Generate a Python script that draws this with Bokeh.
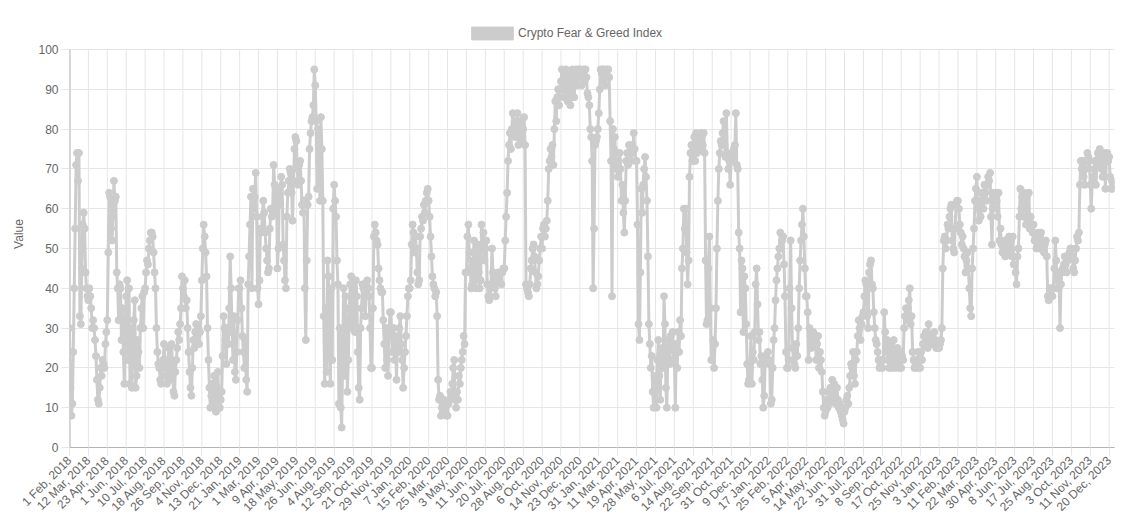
import numpy as np
from math import pi
from bokeh.plotting import figure
from bokeh.models import FixedTicker, Legend, LegendItem, Range1d
from bokeh.embed import file_html
from bokeh.resources import INLINE

# ---------------- data ----------------
# x-axis tick labels (one every 39 daily points)
tick_labels = [
    "1 Feb, 2018", "12 Mar, 2018", "23 Apr, 2018", "1 Jun, 2018", "10 Jul, 2018",
    "18 Aug, 2018", "26 Sep, 2018", "4 Nov, 2018", "13 Dec, 2018", "21 Jan, 2019",
    "1 Mar, 2019", "9 Apr, 2019", "18 May, 2019", "26 Jun, 2019", "4 Aug, 2019",
    "12 Sep, 2019", "21 Oct, 2019", "29 Nov, 2019", "7 Jan, 2020", "15 Feb, 2020",
    "25 Mar, 2020", "3 May, 2020", "11 Jun, 2020", "20 Jul, 2020", "28 Aug, 2020",
    "6 Oct, 2020", "14 Nov, 2020", "23 Dec, 2020", "31 Jan, 2021", "11 Mar, 2021",
    "19 Apr, 2021", "28 May, 2021", "6 Jul, 2021", "14 Aug, 2021", "22 Sep, 2021",
    "31 Oct, 2021", "9 Dec, 2021", "17 Jan, 2022", "25 Feb, 2022", "5 Apr, 2022",
    "14 May, 2022", "22 Jun, 2022", "31 Jul, 2022", "8 Sep, 2022", "17 Oct, 2022",
    "25 Nov, 2022", "3 Jan, 2023", "11 Feb, 2023", "22 Mar, 2023", "30 Apr, 2023",
    "8 Jun, 2023", "17 Jul, 2023", "25 Aug, 2023", "3 Oct, 2023", "11 Nov, 2023",
    "20 Dec, 2023",
]
y_ticks = [0, 10, 20, 30, 40, 50, 60, 70, 80, 90, 100]
days_per_label = 39      # daily points between two tick labels
samples_per_label = 20   # values read per tick interval
last_day = 2156          # index of the last daily point (31 Dec 2023)

# index values (20 per tick interval)
fg_feb2018_jan2019 = [
    30, 15, 8, 11, 24, 40, 55, 71, 74, 67, 74, 33, 31, 45, 56, 59, 55, 44, 40, 38,
    37, 40, 38, 35, 30, 32, 30, 27, 23, 17, 12, 11, 15, 20, 18, 22, 21, 20, 26, 29,
    32, 49, 64, 63, 55, 52, 58, 67, 62, 63, 44, 40, 32, 41, 40, 27, 35, 24, 16, 30,
    38, 42, 22, 40, 16, 30, 15, 25, 32, 37, 15, 18, 27, 24, 20, 30, 35, 38, 30, 39,
    40, 44, 47, 46, 50, 52, 54, 54, 53, 49, 44, 40, 30, 24, 21, 20, 17, 16, 20, 22,
    26, 22, 18, 16, 21, 25, 20, 17, 26, 21, 14, 13, 19, 22, 25, 29, 27, 31, 35, 43,
    40, 38, 42, 35, 37, 30, 24, 19, 15, 13, 20, 27, 25, 29, 31, 28, 30, 26, 29, 33,
    42, 50, 56, 53, 49, 43, 30, 22, 15, 10, 13, 16, 11, 18, 12, 9, 15, 19, 12, 10,
    12, 14, 23, 33, 30, 27, 21, 30, 26, 35, 48, 40, 29, 22, 33, 19, 17, 24, 32, 40,
]
fg_jan2019_jan2020 = [
    40, 42, 35, 28, 24, 20, 27, 17, 14, 41, 48, 56, 63, 40, 65, 60, 63, 69, 58, 40,
    36, 42, 55, 54, 58, 62, 59, 54, 50, 47, 44, 45, 55, 60, 58, 60, 71, 66, 59, 65,
    45, 50, 64, 61, 68, 66, 51, 47, 42, 40, 58, 64, 67, 70, 69, 64, 57, 67, 75, 78,
    77, 70, 66, 71, 72, 67, 61, 59, 62, 40, 27, 47, 61, 63, 75, 79, 82, 83, 86, 95,
    91, 82, 65, 80, 72, 62, 83, 75, 62, 33, 16, 35, 19, 47, 43, 25, 16, 40, 22, 60,
    66, 62, 58, 47, 41, 11, 30, 10, 5, 23, 40, 18, 38, 30, 14, 22, 35, 41, 43, 30,
    30, 40, 29, 42, 38, 24, 15, 12, 30, 35, 41, 40, 38, 33, 41, 42, 40, 38, 30, 20,
    20, 35, 53, 56, 54, 52, 51, 45, 42, 40, 39, 39, 32, 26, 20, 30, 22, 18, 28, 34,
    34, 28, 24, 30, 22, 26, 17, 28, 24, 30, 33, 26, 22, 15, 20, 24, 28, 33, 38, 40,
]
fg_jan2020_jan2021 = [
    40, 42, 51, 56, 54, 49, 53, 50, 44, 41, 42, 53, 55, 58, 57, 61, 59, 62, 64, 65,
    62, 58, 53, 48, 43, 41, 40, 38, 39, 33, 17, 12, 13, 8, 10, 9, 12, 10, 11, 8,
    8, 11, 12, 14, 13, 16, 20, 22, 12, 10, 14, 12, 18, 16, 20, 22, 24, 28, 26, 44,
    44, 53, 56, 49, 45, 40, 41, 47, 52, 44, 40, 50, 51, 44, 40, 42, 56, 50, 54, 47,
    50, 52, 41, 38, 37, 38, 41, 50, 44, 42, 40, 38, 42, 43, 44, 42, 44, 41, 44, 45,
    45, 52, 58, 64, 72, 76, 79, 75, 80, 84, 80, 82, 78, 81, 84, 76, 79, 82, 77, 78,
    80, 83, 76, 41, 40, 39, 38, 41, 45, 47, 50, 51, 48, 44, 40, 41, 43, 47, 50, 53,
    50, 55, 56, 53, 55, 57, 62, 70, 72, 75, 73, 76, 71, 80, 87, 82, 88, 90, 86, 90,
    92, 95, 90, 88, 93, 95, 91, 87, 94, 92, 86, 89, 95, 93, 88, 92, 95, 91, 94, 95,
    95, 93, 91, 94, 95, 92, 95, 93, 89, 88, 86, 80, 78, 72, 40, 55, 76, 77, 78, 80,
]
fg_jan2021_jan2022 = [
    84, 90, 95, 94, 95, 92, 95, 91, 94, 95, 95, 93, 82, 72, 38, 80, 75, 78, 70, 72,
    68, 72, 74, 70, 62, 66, 59, 54, 62, 72, 74, 71, 76, 74, 72, 76, 74, 79, 75, 72,
    72, 56, 31, 27, 44, 65, 59, 66, 70, 73, 68, 62, 48, 31, 26, 20, 23, 14, 10, 18,
    14, 10, 22, 27, 18, 12, 23, 25, 20, 38, 31, 15, 10, 24, 27, 21, 28, 26, 29, 22,
    22, 10, 26, 20, 29, 24, 32, 28, 45, 50, 60, 55, 60, 49, 41, 47, 68, 74, 76, 72,
    76, 78, 72, 79, 74, 78, 77, 75, 79, 78, 76, 79, 74, 47, 31, 32, 45, 53, 35, 22,
    22, 27, 20, 26, 35, 50, 62, 70, 74, 77, 76, 79, 82, 76, 73, 84, 74, 70, 72, 66,
    72, 74, 73, 75, 76, 84, 71, 70, 54, 50, 34, 47, 45, 29, 43, 40, 31, 21, 16, 17,
    20, 28, 16, 24, 22, 29, 41, 45, 36, 27, 29, 21, 23, 17, 10, 13, 21, 23, 22, 24,
]
fg_jan2022_jan2023 = [
    22, 21, 11, 12, 20, 27, 30, 37, 42, 45, 48, 50, 54, 50, 52, 53, 46, 38, 24, 20,
    20, 22, 40, 52, 35, 25, 22, 21, 20, 26, 23, 30, 40, 47, 52, 56, 60, 53, 45, 38,
    38, 34, 22, 30, 28, 25, 27, 29, 26, 28, 22, 26, 28, 20, 24, 22, 19, 14, 10, 8,
    9, 12, 10, 14, 11, 15, 13, 17, 12, 16, 13, 11, 15, 12, 10, 11, 9, 8, 7, 6,
    9, 10, 12, 13, 11, 15, 18, 21, 20, 24, 18, 16, 22, 24, 28, 32, 30, 27, 31, 33,
    34, 38, 42, 41, 33, 30, 44, 46, 47, 41, 40, 34, 30, 27, 26, 24, 22, 20, 21, 22,
    20, 22, 34, 29, 24, 27, 22, 20, 26, 22, 20, 24, 27, 22, 20, 23, 25, 22, 20, 24,
    20, 23, 22, 30, 33, 35, 32, 35, 37, 40, 31, 33, 24, 22, 20, 21, 22, 20, 24, 22,
    20, 24, 22, 26, 28, 26, 29, 27, 25, 31, 28, 26, 27, 28, 26, 29, 27, 25, 26, 25,
]
fg_jan2023_dec2023 = [
    25, 26, 27, 30, 45, 52, 53, 50, 52, 56, 55, 58, 60, 61, 52, 50, 49, 55, 61, 62,
    62, 60, 56, 54, 51, 53, 50, 48, 44, 47, 49, 45, 40, 35, 33, 45, 50, 55, 62, 65,
    68, 60, 57, 62, 58, 64, 62, 60, 66, 64, 62, 66, 68, 67, 69, 58, 51, 60, 64, 62,
    64, 62, 58, 64, 52, 55, 51, 49, 50, 52, 48, 50, 49, 51, 53, 49, 52, 48, 53, 46,
    46, 44, 41, 48, 50, 58, 65, 60, 63, 58, 64, 60, 56, 63, 57, 64, 55, 58, 56, 54,
    56, 52, 53, 50, 51, 54, 50, 53, 54, 52, 50, 49, 51, 52, 48, 38, 37, 40, 39, 40,
    38, 40, 45, 52, 47, 40, 42, 44, 30, 41, 44, 45, 46, 48, 46, 44, 47, 48, 49, 50,
    50, 48, 45, 44, 47, 50, 53, 52, 54, 66, 72, 70, 72, 68, 66, 70, 72, 74, 73, 72,
    66, 60, 66, 68, 70, 72, 66, 71, 74, 73, 75, 72, 70, 68, 73, 74, 65, 72, 74, 72,
    73, 68, 65, 67, 65, 66,
]

values = (fg_feb2018_jan2019 + fg_jan2019_jan2020 + fg_jan2020_jan2021
          + fg_jan2021_jan2022 + fg_jan2022_jan2023 + fg_jan2023_dec2023)
x = np.arange(len(values)) * days_per_label / samples_per_label
tick_pos = [days_per_label * k for k in range(len(tick_labels))]

# ---------------- style ----------------
FONT = "Liberation Sans"
TXT = "#666666"
GRID = "#e6e6e6"
AXIS = "#b3b3b3"
SERIES = "#cccccc"

# frame extends a little above 100 so that the legend (drawn in the frame) is visible
y_top = 100 + 29 / 3.98

p = figure(width=1120, height=522, output_backend="svg", toolbar_location=None,
           x_range=Range1d(0, last_day), y_range=Range1d(0, y_top),
           min_border_left=69, min_border_right=6, min_border_top=20,
           min_border_bottom=75)
p.outline_line_color = None
p.background_fill_color = "white"
p.border_fill_color = "white"

# vertical grid lines (stop at 100) and the y axis line
p.segment(x0=tick_pos, y0=0, x1=tick_pos, y1=100, line_color=GRID, line_width=1)
p.segment(x0=[0], y0=[0], x1=[0], y1=[100], line_color=AXIS, line_width=2)

p.line(x, values, line_color=SERIES, line_width=3, line_join="round")
p.scatter(x, values, size=7, fill_color=SERIES, line_color=SERIES, line_width=1)

# legend swatch: a quad with a NaN row (draws nothing, only its legend box)
box = p.quad(left=[np.nan], right=[np.nan], top=[np.nan], bottom=[np.nan],
             fill_color=SERIES, line_color=SERIES, line_width=1)
legend = Legend(items=[LegendItem(label="Crypto Fear & Greed Index", renderers=[box])],
                location=(397, 406), orientation="horizontal",
                glyph_width=52, glyph_height=16, label_height=13,
                label_standoff=0, padding=0, margin=0, spacing=0,
                border_line_color=None, background_fill_alpha=0,
                label_text_font=FONT, label_text_font_size="12px",
                label_text_color=TXT)
p.add_layout(legend)

# x axis
p.xaxis.ticker = FixedTicker(ticks=tick_pos)
p.xaxis.major_label_overrides = {t: lab for t, lab in zip(tick_pos, tick_labels)}
p.xaxis.major_label_orientation = pi / 4
p.xaxis.major_label_standoff = 3
p.xaxis.axis_line_color = AXIS
# y axis
p.yaxis.ticker = FixedTicker(ticks=y_ticks)
p.yaxis.major_label_standoff = 3
p.yaxis.axis_line_color = None
p.yaxis.axis_label = "Value"
p.yaxis.axis_label_standoff = 9
p.yaxis.axis_label_text_font = FONT
p.yaxis.axis_label_text_font_size = "12px"
p.yaxis.axis_label_text_font_style = "normal"
p.yaxis.axis_label_text_color = TXT

for ax in (p.xaxis, p.yaxis):
    ax.major_label_text_font = FONT
    ax.major_label_text_font_size = "12px"
    ax.major_label_text_color = TXT
    ax.major_tick_line_color = GRID
    ax.major_tick_out = 8
    ax.major_tick_in = 0
    ax.minor_tick_line_color = None

p.xgrid.grid_line_color = None
p.ygrid.grid_line_color = GRID

open("out.html", "w").write(file_html(p, INLINE))
